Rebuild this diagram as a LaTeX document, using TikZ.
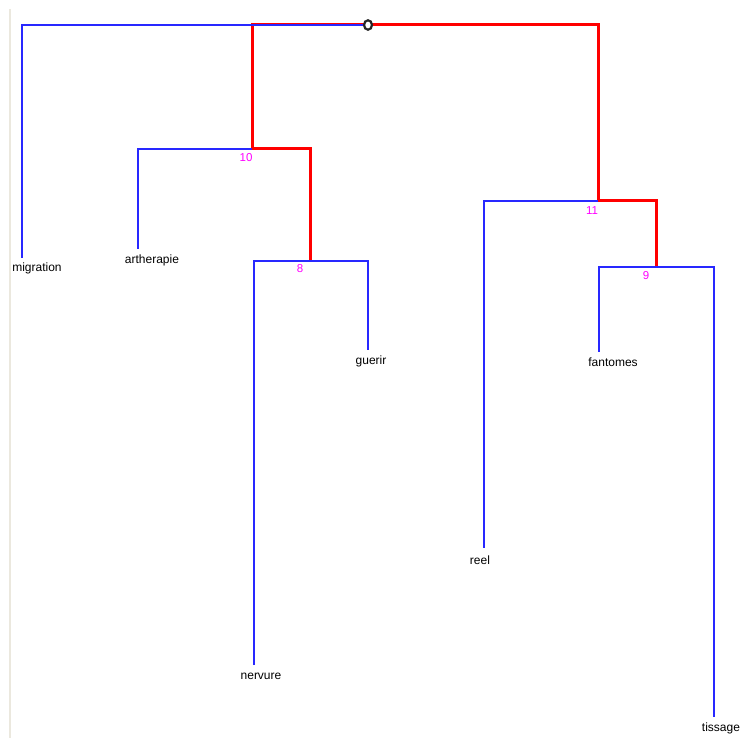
\documentclass[tikz,border=0pt]{standalone}
\usetikzlibrary{shapes.geometric}
\usepackage{fontspec}
\setmainfont{Liberation Sans}
\definecolor{lineblue}{RGB}{40,40,255}
\definecolor{labelmag}{RGB}{255,0,255}
\begin{document}
\begin{tikzpicture}[x=1pt,y=-1pt,
  lbl/.style={font=\fontsize{12}{14}\selectfont, text=black, inner sep=0pt},
  num/.style={font=\fontsize{11.5}{13}\selectfont, text=labelmag, inner sep=0pt},
  blueln/.style={draw=lineblue, line width=1.3pt},
  redln/.style={draw=red, line width=3pt, line join=miter},
  rootmark/.style={ellipse, draw=black!85, line width=2.2pt, fill=white, minimum width=8pt, minimum height=9.5pt, inner sep=0pt}]
\useasboundingbox (0,0) rectangle (745,738);
\draw[color={rgb,255:red,235;green,232;blue,222}, line width=1.2pt] (10,9) -- (10,738);
% junction coordinates
\coordinate (root) at (368,25);
\coordinate (rl) at (22,25);
\coordinate (ra) at (252,25);
\coordinate (rb) at (598,25);
\coordinate (n10) at (252,149);
\coordinate (n10l) at (138,149);
\coordinate (n10r) at (310,149);
\coordinate (n8) at (310,261);
\coordinate (n8l) at (254,261);
\coordinate (n8r) at (368,261);
\coordinate (n11) at (598,201);
\coordinate (n11l) at (484,201);
\coordinate (n11r) at (656,201);
\coordinate (n9) at (656,267);
\coordinate (n9l) at (599,267);
\coordinate (n9r) at (714,267);
% leaf ends
\coordinate (emig) at (22,258);
\coordinate (eart) at (138,249);
\coordinate (egue) at (368,350);
\coordinate (ener) at (254,665);
\coordinate (eree) at (484,548);
\coordinate (efan) at (599,352);
\coordinate (etis) at (714,717);
% red path
\draw[redln] (n10) -- (ra) -- (rb) -- (n11);
\draw[redln] (n10) -- (n10r) -- (n8);
\draw[redln] (n11) -- (n11r) -- (n9);
% blue lines
\draw[blueln] (root) -- (rl) -- (emig);
\draw[blueln] (n10) -- (n10l) -- (eart);
\draw[blueln] (ener) -- (n8l) -- (n8r) -- (egue);
\draw[blueln] (n11) -- (n11l) -- (eree);
\draw[blueln] (efan) -- (n9l) -- (n9r) -- (etis);
% root marker
\node[rootmark] (rootnode) at (root) {};
% numbers
\node[num] (l10) at (246,158) {10};
\node[num] (l8) at (300,269) {8};
\node[num] (l11) at (592,211) {11};
\node[num] (l9) at (646,276) {9};
% leaf labels
\node[lbl] (migration) at (37,268) {migration};
\node[lbl] (artherapie) at (152,260) {artherapie};
\node[lbl] (guerir) at (371,361) {guerir};
\node[lbl] (nervure) at (261,676) {nervure};
\node[lbl] (reel) at (480,560) {reel};
\node[lbl] (fantomes) at (613,362) {fantomes};
\node[lbl] (tissage) at (721,728) {tissage};
\end{tikzpicture}
\end{document}
